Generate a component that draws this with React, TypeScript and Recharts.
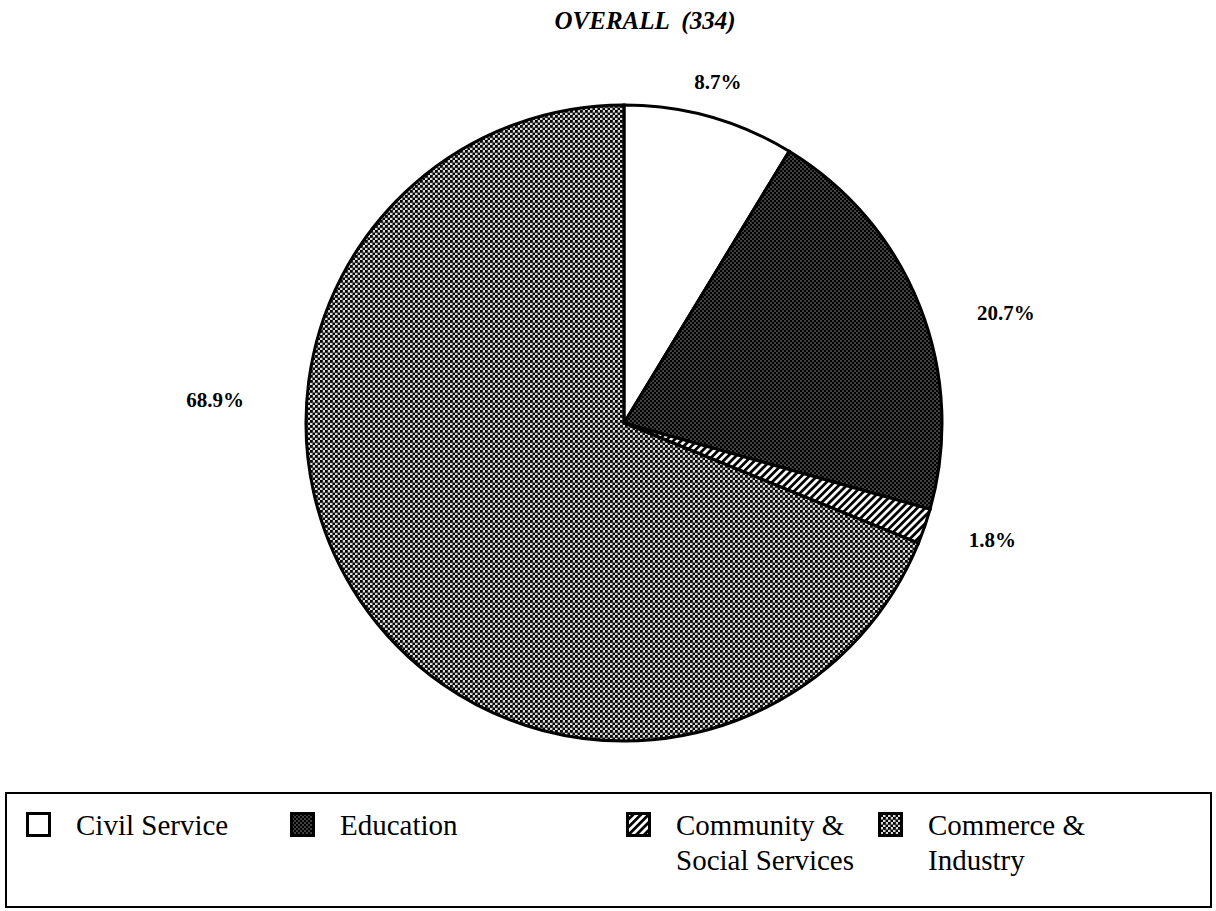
import React from 'react';
import { PieChart, Pie, Cell, Legend } from 'recharts';

const categories = ['Civil Service', 'Education', 'Community & Social Services', 'Commerce & Industry'];
const legendLines = [['Civil Service'], ['Education'], ['Community &', 'Social Services'], ['Commerce &', 'Industry']];
const percents = [8.7, 20.7, 1.8, 68.9];
const title = 'OVERALL  (334)';

const fills = ['#ffffff', 'url(#patEdu)', 'url(#patComm)', 'url(#patCom)'];
// label placement: [angle in degrees, radius factor relative to outerRadius]
const labelPlacement: [number, number][] = [
  [74.6, 1.112],
  [16.1, 1.25],
  [-17.6, 1.215],
  [176.8, 1.288],
];
const legendX = [26, 290, 626, 878];

const data = categories.map((c, i) => ({ name: c, value: percents[i] }));

const SERIF = '"Liberation Serif", "Times New Roman", Times, serif';

const Patterns = () => (
  <svg width={0} height={0} style={{ position: 'absolute' }}>
    <defs>
      <pattern id="patEdu" width={4} height={4} patternUnits="userSpaceOnUse">
        <rect width={4} height={4} fill="#000000" />
        <rect x={0.5} y={0.5} width={1} height={1} fill="#ffffff" />
        <rect x={2.5} y={2.5} width={1} height={1} fill="#ffffff" />
      </pattern>
      <pattern id="patCom" width={5} height={5} patternUnits="userSpaceOnUse">
        <rect width={5} height={5} fill="#d8d8d8" />
        <rect x={0} y={0} width={2.8} height={2.8} fill="#000000" />
        <rect x={2.5} y={2.5} width={2.8} height={2.8} fill="#000000" />
      </pattern>
      <pattern id="patComm" width={5.5} height={5.5} patternUnits="userSpaceOnUse" patternTransform="rotate(45)">
        <rect width={5.5} height={5.5} fill="#ffffff" />
        <rect x={0} y={0} width={2.8} height={5.5} fill="#000000" />
      </pattern>
    </defs>
  </svg>
);

const renderLabel = (props: any) => {
  const { cx, cy, outerRadius, index } = props;
  const [ang, f] = labelPlacement[index];
  const rad = (ang * Math.PI) / 180;
  const x = cx + outerRadius * f * Math.cos(rad);
  const y = cy - outerRadius * f * Math.sin(rad);
  return (
    <text
      x={x}
      y={y}
      textAnchor="middle"
      dominantBaseline="central"
      fontFamily={SERIF}
      fontWeight="bold"
      fontSize={21}
      fill="#000"
    >
      {`${percents[index].toFixed(1)}%`}
    </text>
  );
};

const LegendContent = () => (
  <div
    style={{
      position: 'relative',
      width: 1203,
      height: 112,
      border: '2px solid #000',
      fontFamily: SERIF,
      fontSize: 29,
      color: '#000',
      background: '#fff',
    }}
  >
    {legendLines.map((lines, i) => (
      <div key={i} style={{ position: 'absolute', left: legendX[i] - 7, top: 0 }}>
        <svg width={26} height={26} style={{ position: 'absolute', left: 0, top: 18 }}>
          <rect x={1.5} y={1.5} width={22} height={22} fill={fills[i]} stroke="#000" strokeWidth={3} />
        </svg>
        <div style={{ position: 'absolute', left: 50, top: 14, lineHeight: '35px', whiteSpace: 'nowrap' }}>
          {lines.map((l, j) => (
            <div key={j}>{l}</div>
          ))}
        </div>
      </div>
    ))}
  </div>
);

export default function App() {
  return (
    <div style={{ position: 'absolute', left: 0, top: 0, width: 1216, height: 911, background: '#fff' }}>
      <Patterns />
      <div
        style={{
          position: 'absolute',
          left: 0,
          width: 1290,
          top: 8,
          textAlign: 'center',
          fontFamily: SERIF,
          fontStyle: 'italic',
          fontWeight: 'bold',
          fontSize: 25,
          lineHeight: '25px',
          whiteSpace: 'pre',
        }}
      >
        {title}
      </div>
      <PieChart width={1216} height={911} margin={{ top: 0, right: 0, bottom: 0, left: 0 }}>
        <Pie
          data={data}
          dataKey="value"
          nameKey="name"
          cx={624}
          cy={423}
          outerRadius={318}
          startAngle={90}
          endAngle={-270}
          stroke="#000"
          strokeWidth={3}
          label={renderLabel}
          labelLine={false}
          isAnimationActive={false}
        >
          {data.map((d, i) => (
            <Cell key={d.name} fill={fills[i]} />
          ))}
        </Pie>
        <Legend
          content={() => <LegendContent />}
          wrapperStyle={{ position: 'absolute', left: 5, top: 792, width: 1207, height: 116 }}
        />
      </PieChart>
    </div>
  );
}
